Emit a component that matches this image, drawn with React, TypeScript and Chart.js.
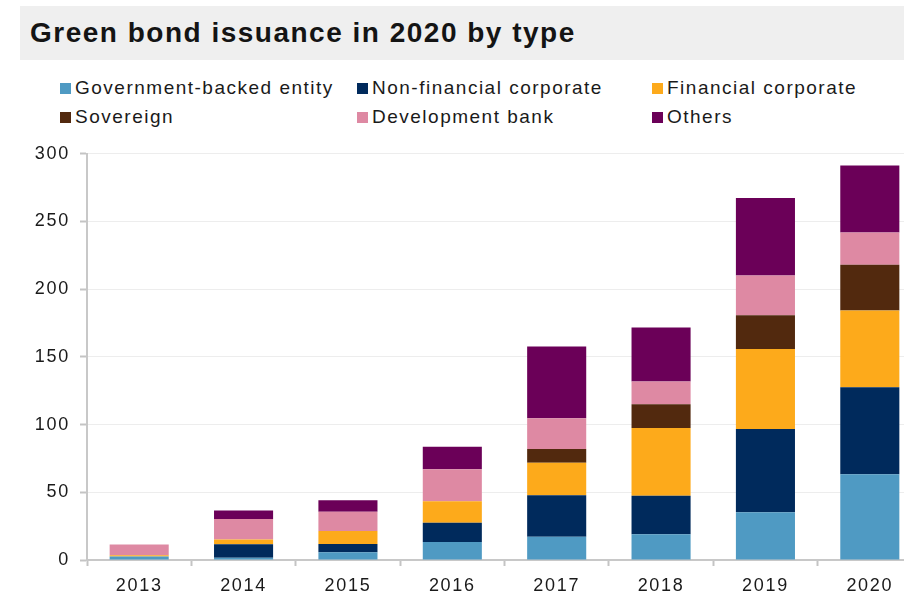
import React, { useEffect, useRef } from "react";
import { Chart, registerables } from "chart.js";

Chart.register(...registerables);

const TITLE = "Green bond issuance in 2020 by type";
const categories = ["2013", "2014", "2015", "2016", "2017", "2018", "2019", "2020"];

const seriesNames = [
  "Government-backed entity",
  "Non-financial corporate",
  "Financial corporate",
  "Sovereign",
  "Development bank",
  "Others",
];
const seriesColors = ["#4f9ac3", "#002a5c", "#fdaa1b", "#52290e", "#de89a3", "#6b0058"];

const govBacked = [2.5, 1.7, 5.7, 13.3, 17.2, 19, 35.2, 63.3];
const nonFinancial = [0, 10, 6.1, 14.3, 30.6, 28.5, 61.6, 64.3];
const financial = [1, 3.5, 9.6, 15.8, 24.1, 50, 59.1, 56.6];
const sovereign = [0, 0, 0, 0, 10.1, 17.5, 24.8, 33.8];
const development = [8, 15, 14.3, 23.6, 22.7, 16.8, 29.5, 23.9];
const others = [0, 6.3, 8.4, 16.7, 52.9, 39.9, 57.1, 49.5];

const seriesValues = [govBacked, nonFinancial, financial, sovereign, development, others];

const FONT = "'Liberation Sans', Arial, sans-serif";

const spacingPlugin = {
  id: "letterSpacing",
  beforeDraw(chart: any) {
    (chart.ctx as any).letterSpacing = "1.7px";
  },
  afterDraw(chart: any) {
    (chart.ctx as any).letterSpacing = "0px";
  },
};

export default function App() {
  const canvasRef = useRef<HTMLCanvasElement | null>(null);

  useEffect(() => {
    if (!canvasRef.current) return;
    const chart = new Chart(canvasRef.current, {
      type: "bar",
      data: {
        labels: categories,
        datasets: seriesValues.map((vals, i) => ({
          label: seriesNames[i],
          data: vals,
          backgroundColor: seriesColors[i],
          borderWidth: 0,
          categoryPercentage: 1,
          barPercentage: 0.566,
        })),
      },
      options: {
        animation: false,
        responsive: false,
        maintainAspectRatio: false,
        devicePixelRatio: 1,
        layout: { padding: { top: 14, right: 8, left: 0, bottom: 0 } },
        plugins: {
          legend: { display: false },
          title: { display: false },
          tooltip: { enabled: false },
        },
        scales: {
          x: {
            stacked: true,
            offset: true,
            grid: {
              display: true,
              drawOnChartArea: false,
              offset: true,
              tickLength: 6,
              tickColor: "#c4c4c4",
              tickWidth: 2,
            },
            border: { display: true, color: "#c8c8c8", width: 2 },
            ticks: {
              color: "#1a1a1a",
              font: { family: FONT, size: 18 },
              padding: 9,
              maxRotation: 0,
            },
            afterFit(scale: any) {
              scale.height = 36;
            },
          },
          y: {
            stacked: true,
            min: 0,
            max: 300,
            grid: {
              color: "#ededed",
              lineWidth: 1,
              tickLength: 7,
              tickColor: "#c4c4c4",
              tickWidth: 2,
            },
            border: { display: true, color: "#c8c8c8", width: 2 },
            ticks: {
              stepSize: 50,
              color: "#1a1a1a",
              font: { family: FONT, size: 18 },
              padding: 10,
            },
            afterFit(scale: any) {
              scale.width = 87;
            },
          },
        },
      },
      plugins: [spacingPlugin],
    });
    return () => chart.destroy();
  }, []);

  return (
    <div
      style={{
        position: "fixed",
        left: 0,
        top: 0,
        width: 904,
        height: 596,
        overflow: "hidden",
        background: "#fff",
        fontFamily: FONT,
      }}
    >
      <div
        style={{
          position: "absolute",
          left: 20,
          top: 6,
          width: 884,
          height: 54,
          background: "#efefef",
        }}
      />
      <div
        style={{
          position: "absolute",
          left: 30,
          top: 16,
          fontSize: 28,
          fontWeight: 700,
          color: "#141414",
          letterSpacing: "1.5px",
          lineHeight: "34px",
          whiteSpace: "nowrap",
        }}
      >
        {TITLE}
      </div>
      {seriesNames.map((name, k) => {
        const col = k % 3;
        const row = Math.floor(k / 3);
        const lefts = [60, 357, 652];
        return (
          <div
            key={name}
            style={{
              position: "absolute",
              left: lefts[col],
              top: 76 + row * 29,
              height: 24,
              display: "flex",
              alignItems: "center",
              whiteSpace: "nowrap",
            }}
          >
            <span
              style={{
                display: "inline-block",
                width: 11,
                height: 11,
                background: seriesColors[k],
                marginRight: 4,
              }}
            />
            <span style={{ fontSize: 19, color: "#1a1a1a", letterSpacing: "1.5px" }}>{name}</span>
          </div>
        );
      })}
      <canvas
        ref={canvasRef}
        width={930}
        height={463}
        style={{ position: "absolute", left: 0, top: 133, width: 930, height: 463 }}
      />
    </div>
  );
}
